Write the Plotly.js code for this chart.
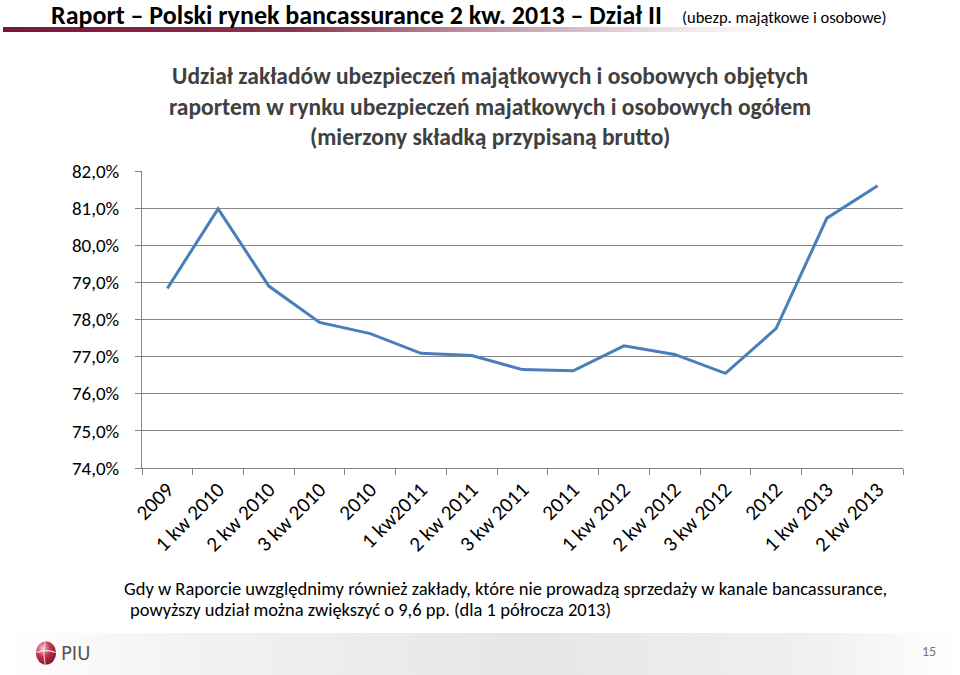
<!DOCTYPE html>
<html>
<head>
<meta charset="utf-8">
<script src="https://cdn.plot.ly/plotly-3.0.1.min.js"></script>
<style>
html,body{margin:0;padding:0;background:#fff;}
#chart{width:960px;height:675px;}
</style>
</head>
<body>
<div id="chart"></div>
<script>
// ---- data ----
const categories = ["2009","1 kw 2010","2 kw 2010","3 kw 2010","2010","1 kw2011","2 kw 2011","3 kw 2011","2011","1 kw 2012","2 kw 2012","3 kw 2012","2012","1 kw 2013","2 kw 2013"];
const shareValues = [78.84, 80.98, 78.90, 77.92, 77.62, 77.09, 77.03, 76.65, 76.62, 77.29, 77.06, 76.55, 77.76, 80.73, 81.60];
const yTickValues = [74, 75, 76, 77, 78, 79, 80, 81, 82];
const yTickLabels = ["74,0%", "75,0%", "76,0%", "77,0%", "78,0%", "79,0%", "80,0%", "81,0%", "82,0%"];

const headerMain = "Raport – Polski rynek bancassurance 2 kw. 2013 – Dział II";
const headerSub = "(ubezp. majątkowe i osobowe)";
const chartTitle = "Udział zakładów ubezpieczeń majątkowych i osobowych objętych<br>raportem w rynku ubezpieczeń majatkowych i osobowych ogółem<br>(mierzony składką przypisaną brutto)";
const noteLine1 = "Gdy w Raporcie uwzględnimy również zakłady, które nie prowadzą sprzedaży w kanale bancassurance,";
const noteLine2 = "powyższy udział można zwiększyć o 9,6 pp. (dla 1 półrocza 2013)";
const pageNumber = "15";

// ---- layout helpers ----
const W = 960, H = 675;
const L = 142, R = 57, T = 171, B = 207;
const pw = W - L - R, ph = H - T - B;
const px = x => (x - L) / pw;
const py = y => (H - B - y) / ph;

const FONT = "Carlito, Calibri, Lato, 'Open Sans', sans-serif";

const svgBar = 'data:image/svg+xml;utf8,' + encodeURIComponent(
 '<svg xmlns="http://www.w3.org/2000/svg" width="900" height="6" preserveAspectRatio="none"><defs><linearGradient id="g" x1="0" x2="1" y1="0" y2="0"><stop offset="0" stop-color="#7a1738"/><stop offset="0.35" stop-color="#8a3550"/><stop offset="0.7" stop-color="#c9a6b3" stop-opacity="0.7"/><stop offset="1" stop-color="#ffffff" stop-opacity="0"/></linearGradient></defs><rect width="900" height="6" fill="url(#g)"/></svg>');

const svgFooter = 'data:image/svg+xml;utf8,' + encodeURIComponent(
 '<svg xmlns="http://www.w3.org/2000/svg" width="960" height="42" preserveAspectRatio="none"><defs><linearGradient id="f" x1="0" x2="1" y1="0" y2="0"><stop offset="0" stop-color="#ffffff"/><stop offset="0.2" stop-color="#f2f2f2"/><stop offset="0.55" stop-color="#e6e6e6"/><stop offset="0.85" stop-color="#f0f0f0"/><stop offset="1" stop-color="#ffffff"/></linearGradient></defs><rect width="960" height="42" fill="url(#f)"/></svg>');

const svgLogo = 'data:image/svg+xml;utf8,' + encodeURIComponent(
 '<svg xmlns="http://www.w3.org/2000/svg" width="26" height="26"><defs><radialGradient id="r" cx="0.35" cy="0.3" r="0.8"><stop offset="0" stop-color="#f4c9d2"/><stop offset="0.45" stop-color="#c0354f"/><stop offset="1" stop-color="#7a0f25"/></radialGradient></defs><ellipse cx="13" cy="13.5" rx="11" ry="12" fill="url(#r)"/><path d="M2.5 13 Q13 9 23.5 13" stroke="#fbe3e8" stroke-width="1.2" fill="none"/><path d="M12 2 Q9 13 12 25" stroke="#fbe3e8" stroke-width="1" fill="none"/></svg>');

const trace = {
  type: "scatter",
  mode: "lines",
  x: categories,
  y: shareValues,
  line: {color: "#4a7ebb", width: 3},
  hoverinfo: "x+y",
  showlegend: false
};

const layout = {
  width: W, height: H,
  margin: {l: L, r: R, t: T, b: B, pad: 0},
  paper_bgcolor: "#ffffff",
  plot_bgcolor: "#ffffff",
  separators: ", ",
  font: {family: FONT, color: "#000", size: 17},
  xaxis: {
    type: "category",
    range: [-0.5, categories.length - 0.5],
    tickangle: -45,
    showgrid: false,
    showline: true,
    linecolor: "#868686",
    linewidth: 1,
    ticks: "outside",
    tickson: "boundaries",
    ticklen: 6,
    tickcolor: "#868686",
    tickfont: {family: FONT, size: 21, color: "#000"},
    zeroline: false,
    fixedrange: true
  },
  yaxis: {
    range: [74, 82],
    tickmode: "array",
    tickvals: yTickValues,
    ticktext: yTickLabels,
    showgrid: true,
    gridcolor: "#868686",
    gridwidth: 1,
    showline: true,
    linecolor: "#868686",
    linewidth: 1,
    ticks: "outside",
    ticklen: 6,
    tickcolor: "#868686",
    tickfont: {family: FONT, size: 19, color: "#000"},
    ticklabelstandoff: 12,
    zeroline: false,
    fixedrange: true
  },
  images: [
    {source: svgBar, xref: "paper", yref: "paper", x: px(3), y: py(27), sizex: (840)/pw, sizey: 5/ph, sizing: "stretch", xanchor: "left", yanchor: "top", layer: "below"},
    {source: svgFooter, xref: "paper", yref: "paper", x: px(0), y: py(633), sizex: 960/pw, sizey: 42/ph, sizing: "stretch", xanchor: "left", yanchor: "top", layer: "below"},
    {source: svgLogo, xref: "paper", yref: "paper", x: px(34), y: py(640), sizex: 24/pw, sizey: 25/ph, sizing: "stretch", xanchor: "left", yanchor: "top", layer: "above"}
  ],
  annotations: [
    {text: "<b>" + headerMain + "</b>", xref: "paper", yref: "paper", x: px(49), y: py(15), xanchor: "left", yanchor: "middle", showarrow: false, font: {family: FONT, size: 26, color: "#000"}},
    {text: headerSub, xref: "paper", yref: "paper", x: px(680), y: py(17), xanchor: "left", yanchor: "middle", showarrow: false, font: {family: FONT, size: 16.5, color: "#000"}},
    {text: "<b>" + chartTitle + "</b>", xref: "paper", yref: "paper", x: px(490), y: py(106), xanchor: "center", yanchor: "middle", showarrow: false, align: "center", font: {family: FONT, size: 23.5, color: "#404040"}},
    {text: noteLine1, xref: "paper", yref: "paper", x: px(122), y: py(588), xanchor: "left", yanchor: "middle", showarrow: false, font: {family: FONT, size: 18.5, color: "#000"}},
    {text: noteLine2, xref: "paper", yref: "paper", x: px(128), y: py(609), xanchor: "left", yanchor: "middle", showarrow: false, font: {family: FONT, size: 18.5, color: "#000"}},
    {text: "PIU", xref: "paper", yref: "paper", x: px(59), y: py(653), xanchor: "left", yanchor: "middle", showarrow: false, font: {family: "'Liberation Sans Narrow', 'DejaVu Sans Condensed', sans-serif", size: 20, color: "#555"}},
    {text: pageNumber, xref: "paper", yref: "paper", x: px(938), y: py(651), xanchor: "right", yanchor: "middle", showarrow: false, font: {family: FONT, size: 14, color: "#777"}}
  ]
};

Plotly.newPlot("chart", [trace], layout, {displayModeBar: false, staticPlot: true});
</script>
</body>
</html>
